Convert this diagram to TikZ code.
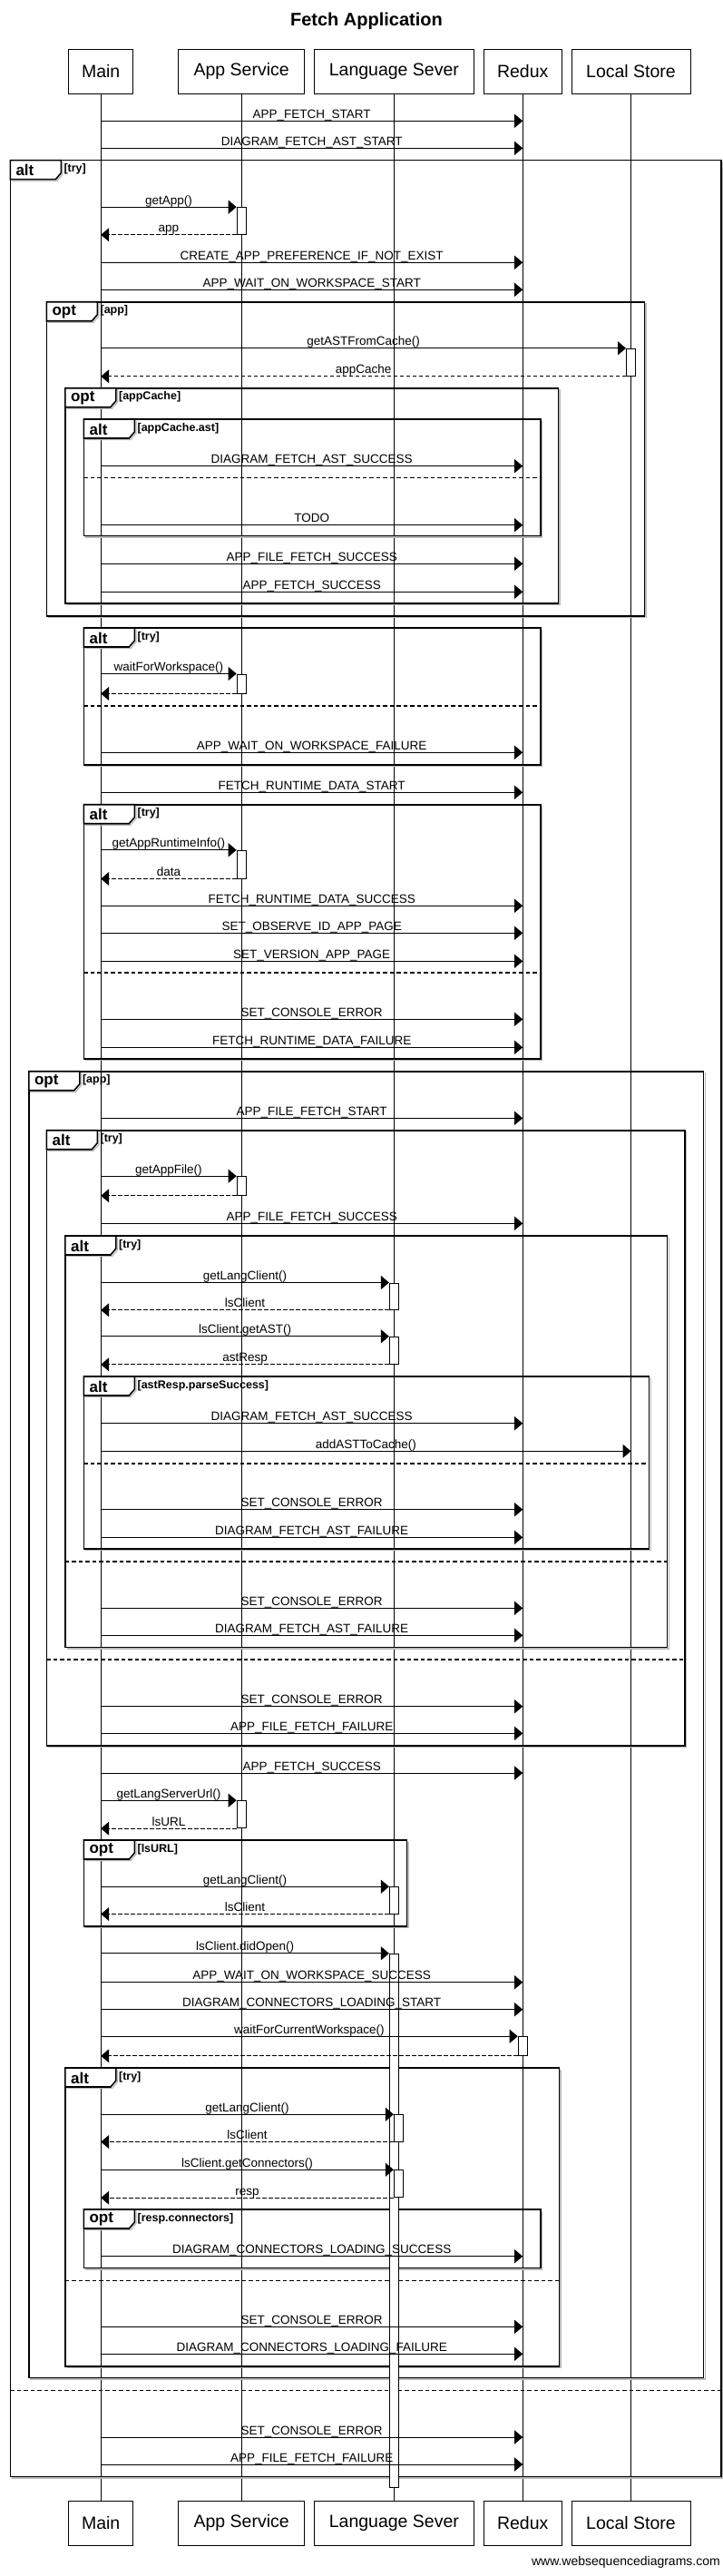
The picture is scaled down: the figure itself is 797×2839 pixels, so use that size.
\documentclass[tikz,border=0pt]{standalone}
\usepackage{fontspec}
\setmainfont{Liberation Sans}
\usetikzlibrary{arrows.meta,fit,calc}

\tikzset{
 part/.style={draw, line width=1pt, minimum height=49pt, inner sep=0pt, font=\fontsize{19.5}{22}\selectfont},
 titletext/.style={inner sep=0pt, font=\fontsize{20}{24}\selectfont\bfseries},
 lifeline/.style={line width=0.9pt},
 msg/.style={line width=1pt, -{Triangle[length=9pt,width=15pt]}},
 ret/.style={msg, dash pattern=on 4.5pt off 2.5pt},
 lbl/.style={pos=0.5, anchor=base, yshift=3pt, inner sep=0pt, font=\fontsize{13.5}{15}\selectfont},
 act/.style={draw, fill=white, line width=1pt, inner sep=0pt},
 frame/.style={line width=1.6pt},
 fshadow/.style={line width=1.2pt, gray!55},
 sepline/.style={line width=1.6pt, dash pattern=on 4.5pt off 3pt},
 optext/.style={anchor=west, inner sep=0pt, font=\fontsize{17}{19}\selectfont\bfseries},
 guardtext/.style={anchor=north west, inner sep=0pt, font=\fontsize{12.5}{14}\selectfont\bfseries},
 foot/.style={anchor=east, inner sep=0pt, font=\fontsize{14}{16}\selectfont},
}

% message Main -> Redux
\newcommand{\sqMsg}[3]{\draw[msg] (mainT |- 0,#2) -- node[lbl] (#1) {#3} (redT |- 0,#2);}
% call Main -> activation box
\newcommand{\sqCall}[3]{\draw[msg] (#1.north west -| mainT) -- node[lbl] (#2) {#3} (#1.north west);}
% return activation box -> Main
\newcommand{\sqRet}[3]{\draw[ret] (#1.south west) -- node[lbl] (#2) {#3} (#1.south west -| mainT);}
\newcommand{\sqRetN}[1]{\draw[ret] (#1.south west) -- (#1.south west -| mainT);}
% activation box: name, x, ytop, ybottom
\newcommand{\sqAct}[4]{\coordinate (#1nw) at ({#2-5},#3); \coordinate (#1se) at ({#2+5},#4); \node[act, fit=(#1nw)(#1se)] (#1) {};}
% fragment: name, L, T, R, B, op, guard
\newcommand{\sqFrag}[7]{%
 \draw[fshadow] ({#2+1.6},{#5+1.6}) -- ({#4+1.6},{#5+1.6}) -- ({#4+1.6},{#3+1.6});
 \draw[frame] (#2,#3) rectangle (#4,#5);
 \draw[fshadow] ({#2+1.6},{#3+22.6}) -- ({#2+51.6},{#3+22.6}) -- ({#2+57.6},{#3+15.6}) -- ({#2+57.6},{#3+1.6});
 \draw[frame, fill=white] (#2,#3) -- ({#2+56},#3) -- ({#2+56},{#3+14}) -- ({#2+50},{#3+21}) -- (#2,{#3+21}) -- cycle;
 \node[optext] (#1o) at ({#2+6},{#3+11}) {#6};
 \node[guardtext] (#1g) at ({#2+59},{#3+4}) {#7};}
\newcommand{\sqSep}[3]{\draw[sepline] (#1,#3) -- (#2,#3);}

\begin{document}
\begin{tikzpicture}[x=1pt,y=-1pt]
\useasboundingbox (0,0) rectangle (797,2839);

\node[titletext] (title) at (404,23) {Fetch Application};

% participants
\node[part, minimum width=71.4pt]  (mainT) at (111.2,78.8) {Main};
\node[part, minimum width=139pt]   (appT)  at (266.2,78.8) {App Service};
\node[part, minimum width=176.8pt] (langT) at (434.4,78.8) {Language Sever};
\node[part, minimum width=86.3pt]  (redT)  at (576.2,78.8) {Redux};
\node[part, minimum width=131pt]   (locT)  at (695.5,78.8) {Local Store};

\node[part, minimum width=71.4pt]  (mainB) at (111.2,2780.8) {Main};
\node[part, minimum width=139pt]   (appB)  at (266.2,2780.8) {App Service};
\node[part, minimum width=176.8pt] (langB) at (434.4,2780.8) {Language Sever};
\node[part, minimum width=86.3pt]  (redB)  at (576.2,2780.8) {Redux};
\node[part, minimum width=131pt]   (locB)  at (695.5,2780.8) {Local Store};

\draw[lifeline] (mainT) -- (mainB);
\draw[lifeline] (appT) -- (appB);
\draw[lifeline] (langT) -- (langB);
\draw[lifeline] (redT) -- (redB);
\draw[lifeline] (locT) -- (locB);

% fragments
\sqFrag{fA}{11.3}{176.7}{795}{2729.3}{alt}{[try]}
\sqSep{11.3}{795}{2634.3}
\sqFrag{fB}{51.4}{332.7}{710.3}{678.7}{opt}{[app]}
\sqFrag{fC}{71.9}{427.7}{615.3}{664.7}{opt}{[appCache]}
\sqFrag{fD}{92.4}{462}{595.8}{590.3}{alt}{[appCache.ast]}
\sqSep{92.4}{595.8}{526.3}
\sqFrag{fE}{92.4}{692}{595.8}{842.7}{alt}{[try]}
\sqSep{92.4}{595.8}{778}
\sqFrag{fF}{92.4}{886.7}{595.8}{1166.7}{alt}{[try]}
\sqSep{92.4}{595.8}{1072}
\sqFrag{fG}{31.8}{1180.7}{775.6}{2620.3}{opt}{[app]}
\sqFrag{fH}{51.4}{1245.7}{755}{1923.7}{alt}{[try]}
\sqSep{51.4}{755}{1829}
\sqFrag{fI}{71.9}{1362}{735.5}{1815.3}{alt}{[try]}
\sqSep{71.9}{735.5}{1721}
\sqFrag{fJ}{92.4}{1517}{715.5}{1707}{alt}{[astResp.parseSuccess]}
\sqSep{92.4}{715.5}{1612.7}
\sqFrag{fK}{92.4}{2028}{448.4}{2123}{opt}{[lsURL]}
\sqFrag{fL}{71.9}{2279}{616.3}{2607.7}{alt}{[try]}
\sqSep{71.9}{616.3}{2513.3}
\sqFrag{fM}{92.4}{2435}{595.8}{2499.3}{opt}{[resp.connectors]}

% activations
\sqAct{a1}{266.2}{228.7}{258.3}
\sqAct{a2}{695.5}{384.3}{414.3}
\sqAct{a3}{266.2}{743}{764}
\sqAct{a4}{266.2}{937.3}{968}
\sqAct{a5}{266.2}{1296.7}{1317.3}
\sqAct{a6}{434.4}{1414}{1443.3}
\sqAct{a7}{434.4}{1473.3}{1503.3}
\sqAct{a8}{266.2}{1984.7}{2014.7}
\sqAct{a9}{434.4}{2079.7}{2109}
\sqAct{a10}{434.4}{2153.3}{2741.7}
\sqAct{a11}{576.2}{2244.7}{2265.3}
\sqAct{a12}{439.4}{2330.7}{2360}
\sqAct{a13}{439.4}{2391.7}{2421.7}

% messages
\sqMsg{m1}{133.3}{APP\_FETCH\_START}
\sqMsg{m2}{163.3}{DIAGRAM\_FETCH\_AST\_START}
\sqCall{a1}{m3}{getApp()}
\sqRet{a1}{m4}{app}
\sqMsg{m5}{289.3}{CREATE\_APP\_PREFERENCE\_IF\_NOT\_EXIST}
\sqMsg{m6}{319.3}{APP\_WAIT\_ON\_WORKSPACE\_START}
\sqCall{a2}{m7}{getASTFromCache()}
\sqRet{a2}{m8}{appCache}
\sqMsg{m9}{513.7}{DIAGRAM\_FETCH\_AST\_SUCCESS}
\sqMsg{m10}{578.7}{TODO}
\sqMsg{m11}{621.3}{APP\_FILE\_FETCH\_SUCCESS}
\sqMsg{m12}{652.3}{APP\_FETCH\_SUCCESS}
\sqCall{a3}{m13}{waitForWorkspace()}
\sqRetN{a3}
\sqMsg{m15}{829.3}{APP\_WAIT\_ON\_WORKSPACE\_FAILURE}
\sqMsg{m16}{873.3}{FETCH\_RUNTIME\_DATA\_START}
\sqCall{a4}{m17}{getAppRuntimeInfo()}
\sqRet{a4}{m18}{data}
\sqMsg{m19}{998.3}{FETCH\_RUNTIME\_DATA\_SUCCESS}
\sqMsg{m20}{1028.3}{SET\_OBSERVE\_ID\_APP\_PAGE}
\sqMsg{m21}{1059.3}{SET\_VERSION\_APP\_PAGE}
\sqMsg{m22}{1123.3}{SET\_CONSOLE\_ERROR}
\sqMsg{m23}{1154.3}{FETCH\_RUNTIME\_DATA\_FAILURE}
\sqMsg{m24}{1232.3}{APP\_FILE\_FETCH\_START}
\sqCall{a5}{m25}{getAppFile()}
\sqRetN{a5}
\sqMsg{m27}{1348.3}{APP\_FILE\_FETCH\_SUCCESS}
\sqCall{a6}{m28}{getLangClient()}
\sqRet{a6}{m29}{lsClient}
\sqCall{a7}{m30}{lsClient.getAST()}
\sqRet{a7}{m31}{astResp}
\sqMsg{m32}{1568.7}{DIAGRAM\_FETCH\_AST\_SUCCESS}
\draw[msg] (mainT |- 0,1599.3) -- node[lbl] (m33) {addASTToCache()} (locT |- 0,1599.3);
\sqMsg{m34}{1663.7}{SET\_CONSOLE\_ERROR}
\sqMsg{m35}{1694.3}{DIAGRAM\_FETCH\_AST\_FAILURE}
\sqMsg{m36}{1772.3}{SET\_CONSOLE\_ERROR}
\sqMsg{m37}{1802.3}{DIAGRAM\_FETCH\_AST\_FAILURE}
\sqMsg{m38}{1880.7}{SET\_CONSOLE\_ERROR}
\sqMsg{m39}{1910.3}{APP\_FILE\_FETCH\_FAILURE}
\sqMsg{m40}{1954}{APP\_FETCH\_SUCCESS}
\sqCall{a8}{m41}{getLangServerUrl()}
\sqRet{a8}{m42}{lsURL}
\sqCall{a9}{m43}{getLangClient()}
\sqRet{a9}{m44}{lsClient}
\sqCall{a10}{m45}{lsClient.didOpen()}
\sqMsg{m46}{2184.7}{APP\_WAIT\_ON\_WORKSPACE\_SUCCESS}
\sqMsg{m47}{2214.7}{DIAGRAM\_CONNECTORS\_LOADING\_START}
\sqCall{a11}{m48}{waitForCurrentWorkspace()}
\sqRetN{a11}
\sqCall{a12}{m50}{getLangClient()}
\sqRet{a12}{m51}{lsClient}
\sqCall{a13}{m52}{lsClient.getConnectors()}
\sqRet{a13}{m53}{resp}
\sqMsg{m54}{2486.7}{DIAGRAM\_CONNECTORS\_LOADING\_SUCCESS}
\sqMsg{m55}{2564.3}{SET\_CONSOLE\_ERROR}
\sqMsg{m56}{2594.3}{DIAGRAM\_CONNECTORS\_LOADING\_FAILURE}
\sqMsg{m57}{2686}{SET\_CONSOLE\_ERROR}
\sqMsg{m58}{2716}{APP\_FILE\_FETCH\_FAILURE}

\node[foot] (footer) at (794,2824.3) {www.websequencediagrams.com};
\end{tikzpicture}
\end{document}
